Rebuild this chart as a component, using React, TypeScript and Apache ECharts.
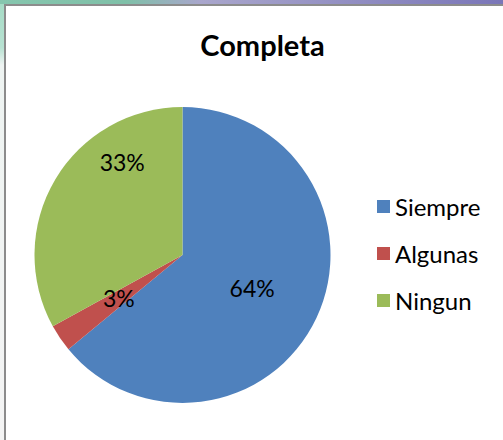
import React, { useEffect, useRef } from "react";
import * as echarts from "echarts";

const categories = ["Siempre", "Algunas", "Ningun"];
const values = [64, 3, 33];
const colors = ["#4F81BD", "#C0504D", "#9BBB59"];
const titleText = "Completa";

export default function App() {
  const ref = useRef<HTMLDivElement>(null);
  useEffect(() => {
    if (!ref.current) return;
    const chart = echarts.init(ref.current, null, { renderer: "svg" });
    const data = categories.map((name, i) => ({
      name,
      value: values[i],
      itemStyle: { color: colors[i] },
      label: i === 2 ? { offset: [6, -54] } : {},
    }));
    chart.setOption({
      animation: false,
      backgroundColor: "#ffffff",
      graphic: [
        {
          type: "rect",
          shape: { x: 0, y: 0, width: 503, height: 4 },
          style: {
            fill: new echarts.graphic.LinearGradient(0, 0, 1, 0, [
              { offset: 0, color: "#86c6ae" },
              { offset: 0.25, color: "#7fc0a8" },
              { offset: 0.4, color: "#a9a6cc" },
              { offset: 1, color: "#7a76b8" },
            ]),
          },
          z: 0,
        },
        {
          type: "rect",
          shape: { x: 0, y: 4, width: 4, height: 436 },
          style: {
            fill: new echarts.graphic.LinearGradient(0, 0, 0, 1, [
              { offset: 0, color: "#a6dcc6" },
              { offset: 0.1, color: "#b8e2d2" },
              { offset: 0.14, color: "#eef4f2" },
              { offset: 1, color: "#f4f4f4" },
            ]),
          },
          z: 0,
        },
        {
          type: "rect",
          shape: { x: 4, y: 4, width: 503, height: 440 },
          style: { fill: "#ffffff", stroke: "none" },
          z: 0,
        },
        {
          type: "rect",
          shape: { x: 4, y: 4, width: 499, height: 2 },
          style: { fill: "#8c8c8c" },
          z: 1,
        },
        {
          type: "rect",
          shape: { x: 4, y: 4, width: 2, height: 436 },
          style: { fill: "#8c8c8c" },
          z: 1,
        },
      ],
      title: {
        text: titleText,
        left: 257.5,
        top: 25,
        textAlign: "center",
        textStyle: {
          fontFamily: "Lato",
          fontWeight: "bold",
          fontSize: 29,
          color: "#000000",
        },
      },
      legend: {
        orient: "vertical",
        left: 372,
        top: 189,
        itemWidth: 13,
        itemHeight: 13,
        itemGap: 22,
        icon: "rect",
        data: categories,
        textStyle: {
          fontFamily: "Lato",
          fontSize: 24,
          color: "#000000",
          lineHeight: 25,
        },
      },
      series: [
        {
          type: "pie",
          center: [182.5, 255],
          radius: [0, 148],
          startAngle: 90,
          clockwise: true,
          label: {
            show: true,
            position: "inside",
            formatter: "{d}%",
            fontFamily: "Lato",
            fontSize: 23,
            color: "#000000",
          },
          labelLine: { show: false },
          itemStyle: { borderWidth: 0 },
          emphasis: { disabled: true },
          data,
        },
      ],
    });
    return () => chart.dispose();
  }, []);
  return (
    <div
      ref={ref}
      style={{ position: "fixed", left: 0, top: 0, width: 503, height: 440 }}
    />
  );
}
